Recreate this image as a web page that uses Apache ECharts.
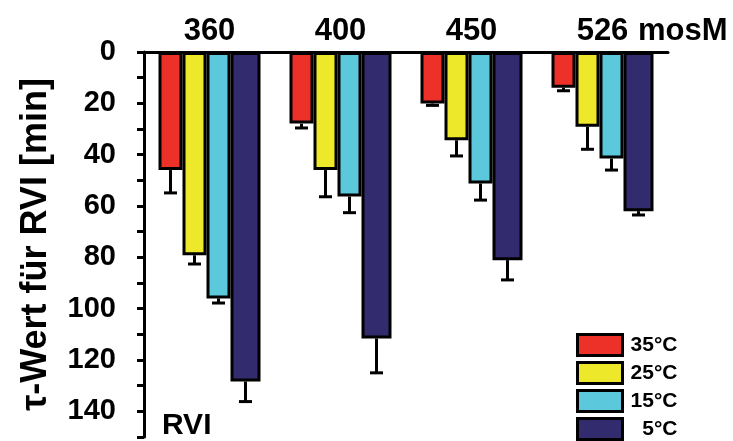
<!DOCTYPE html>
<html><head><meta charset="utf-8">
<script src="https://cdn.jsdelivr.net/npm/echarts@6/dist/echarts.min.js"></script>
<style>html,body{margin:0;padding:0;background:#fff}#c{width:733px;height:441px}</style>
</head><body><div id="c"></div>
<script>
const categories = ['360', '400', '450', '526'];
const seriesNames = ['35°C', '25°C', '15°C', '5°C'];
const red    = [46.0, 27.9, 20.1, 13.9];
const yellow = [79.2, 46.0, 34.4, 29.1];
const cyan   = [96.0, 56.3, 51.2, 41.5];
const navy   = [128.4, 111.6, 81.1, 62.0];
const redErr    = [8.9, 1.7, 0.7, 1.2];
const yellowErr = [3.4, 10.4, 6.1, 8.8];
const cyanErr   = [1.8, 6.3, 6.5, 4.5];
const navyErr   = [7.8, 13.4, 7.7, 1.5];
const yTickLabels = [0, 20, 40, 60, 80, 100, 120, 140];

const values = [red, yellow, cyan, navy];
const errors = [redErr, yellowErr, cyanErr, navyErr];
const colors = ['#EE3128', '#EEE82A', '#5BC8DB', '#322B6E'];
const barWidths = [24, 24, 24, 30];
const FONT = 'Liberation Sans, Arial, sans-serif';

const total = barWidths.reduce((a, b) => a + b, 0);
const offsets = [];
let acc = -total / 2;
barWidths.forEach(w => { offsets.push(acc + w / 2); acc += w; });

function errRender(offset) {
  return function (params, api) {
    const x = api.value(0), v = api.value(1), e = api.value(2);
    const p0 = api.coord([x, v]);
    const p1 = api.coord([x, v + e]);
    const cx = p0[0] + offset;
    return {
      type: 'group',
      children: [
        { type: 'line', shape: { x1: cx, y1: p0[1], x2: cx, y2: p1[1] }, style: { stroke: '#000', lineWidth: 3 } },
        { type: 'line', shape: { x1: cx - 6.5, y1: p1[1], x2: cx + 6.5, y2: p1[1] }, style: { stroke: '#000', lineWidth: 3 } }
      ]
    };
  };
}

const series = [];
seriesNames.forEach((name, i) => {
  series.push({
    name: name,
    type: 'bar',
    data: values[i],
    barWidth: barWidths[i],
    barGap: '0%',
    z: 2,
    itemStyle: { color: colors[i], borderColor: '#000', borderWidth: 3 }
  });
});
seriesNames.forEach((name, i) => {
  series.push({
    name: name + ' err',
    type: 'custom',
    z: 3,
    renderItem: errRender(offsets[i]),
    encode: { x: 0, y: 1 },
    data: values[i].map((v, k) => [k, v, errors[i][k]])
  });
});

const chart = echarts.init(document.getElementById('c'));
chart.setOption({
  animation: false,
  backgroundColor: '#fff',
  grid: { left: 144, right: 65, top: 52, bottom: 4 },
  xAxis: {
    type: 'category',
    position: 'top',
    data: categories,
    axisLine: { lineStyle: { color: '#000', width: 3 } },
    axisTick: { show: false },
    axisLabel: { fontSize: 31, fontWeight: 'bold', color: '#000', fontFamily: FONT, margin: 5 },
    name: 'mosM',
    nameLocation: 'end',
    nameGap: -30,
    nameTextStyle: { fontSize: 31, fontWeight: 'bold', color: '#000', fontFamily: FONT, verticalAlign: 'bottom', align: 'left', padding: [0, 0, 5, 0] }
  },
  yAxis: {
    type: 'value',
    inverse: true,
    min: 0,
    max: 150,
    interval: 10,
    axisLine: { show: true, lineStyle: { color: '#000', width: 3 } },
    axisTick: { show: true, length: 7, lineStyle: { color: '#000', width: 3 } },
    axisLabel: {
      margin: 28, fontSize: 29, fontWeight: 'bold', color: '#000', fontFamily: FONT,
      formatter: v => (yTickLabels.indexOf(v) >= 0 ? String(v) : '')
    },
    splitLine: { show: false },
    name: 'τ-Wert für RVI [min]',
    nameLocation: 'middle',
    nameGap: 90,
    nameRotate: 90,
    nameTextStyle: { fontSize: 36, fontWeight: 'bold', color: '#000', fontFamily: FONT }
  },
  legend: {
    data: seriesNames,
    orient: 'vertical',
    left: 576,
    top: 333,
    width: 140,
    height: 140,
    padding: 0,
    itemWidth: 45,
    itemHeight: 21,
    itemGap: 4,
    icon: 'rect',
    itemStyle: { borderColor: '#000', borderWidth: 3 },
    formatter: n => '{a|' + n + '}',
    textStyle: {
      rich: { a: { width: 50, align: 'right', fontSize: 21, fontWeight: 'bold', color: '#000', fontFamily: FONT, lineHeight: 20 } }
    }
  },
  graphic: [{
    type: 'text',
    left: 162,
    bottom: 0,
    style: { text: 'RVI', fontSize: 30, fontWeight: 'bold', fill: '#000', fontFamily: FONT }
  }],
  series: series
});
</script>
</body></html>
